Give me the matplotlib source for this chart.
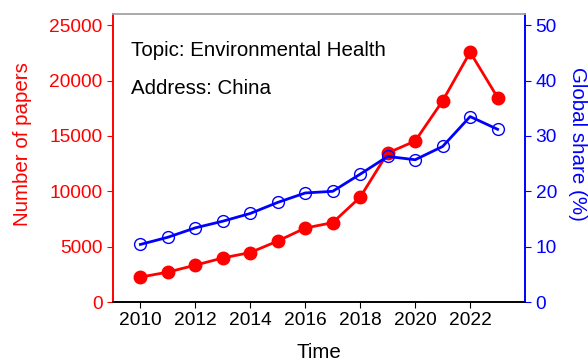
import matplotlib
matplotlib.use("Agg")
import matplotlib.pyplot as plt

years = [2010, 2011, 2012, 2013, 2014, 2015, 2016, 2017, 2018, 2019, 2020, 2021, 2022, 2023]
papers = [2250, 2700, 3330, 3980, 4470, 5510, 6680, 7170, 9470, 13460, 14540, 18170, 22570, 18470]
share = [10.4, 11.7, 13.4, 14.6, 16.0, 18.0, 19.7, 20.0, 23.1, 26.3, 25.7, 28.1, 33.5, 31.2]
xticks = [2010, 2012, 2014, 2016, 2018, 2020, 2022]
left_ticks = [0, 5000, 10000, 15000, 20000, 25000]
right_ticks = [0, 10, 20, 30, 40, 50]

plt.rcParams['font.family'] = ['Liberation Sans', 'DejaVu Sans']
fs = 13.8
lfs = 14.8

fig = plt.figure(figsize=(5.88, 3.63), dpi=100)
ax = fig.add_axes([0.192, 0.168, 0.701, 0.793])
ax2 = ax.twinx()

ax.plot(years, papers, color='red', lw=2, marker='o', ms=9, mfc='red', mec='red', zorder=3)
ax2.plot(years, share, color='blue', lw=2, marker='o', ms=8.5, mfc='none', mec='blue', mew=1.0, zorder=3)

ax.set_xlim(2009, 2024)
ax.set_ylim(0, 26000)
ax2.set_ylim(0, 52)
ax.set_xticks(xticks)
ax.set_yticks(left_ticks)
ax2.set_yticks(right_ticks)

ax.tick_params(axis='x', direction='out', labelsize=fs, colors='black', length=4)
ax.tick_params(axis='y', direction='out', labelsize=fs, colors='red', length=4)
ax2.tick_params(axis='y', direction='out', labelsize=fs, colors='blue', length=4)

for a in (ax, ax2):
    a.spines['top'].set_color('#aaaaaa')
    a.spines['left'].set_color('red')
    a.spines['right'].set_color('blue')
    a.spines['bottom'].set_color('black')
    for s in a.spines.values():
        s.set_linewidth(1.2)

ax.set_xlabel('Time', fontsize=lfs, color='black', labelpad=10)
ax.set_ylabel('Number of papers', fontsize=lfs, color='red')
ax.yaxis.set_label_coords(-0.197, 0.55)
ax2.set_ylabel('Global share (%)', fontsize=lfs, color='blue', rotation=270)
ax2.yaxis.set_label_coords(1.149, 0.55)

ax.text(0.044, 0.875, 'Topic: Environmental Health', transform=ax.transAxes, fontsize=lfs,
        color='black', va='center', ha='left')
ax.text(0.044, 0.743, 'Address: China', transform=ax.transAxes, fontsize=lfs,
        color='black', va='center', ha='left')

fig.savefig('out.png', dpi=100)
